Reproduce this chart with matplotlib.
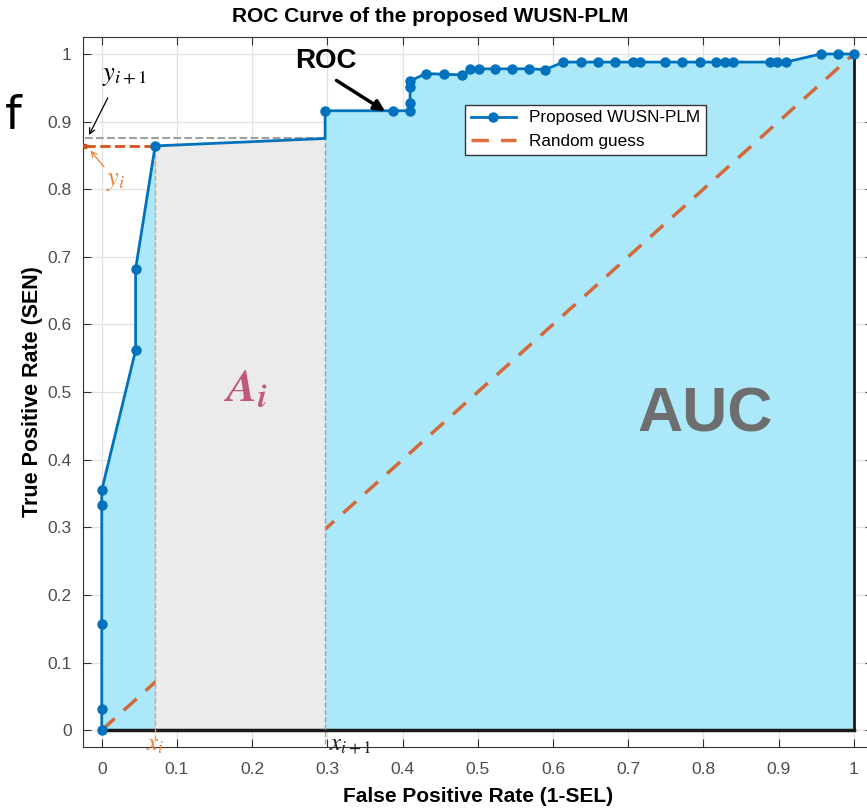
import matplotlib.pyplot as plt
import numpy as np

plt.rcParams['font.family'] = ['Liberation Sans', 'DejaVu Sans']
plt.rcParams['mathtext.fontset'] = 'stix'

# ROC curve points
fpr = [0, 0, 0, 0, 0, 0.045, 0.045, 0.071, 0.297, 0.297, 0.387, 0.410,
       0.410, 0.410, 0.410, 0.431, 0.455, 0.479, 0.490, 0.501, 0.523, 0.546,
       0.568, 0.590, 0.614, 0.637, 0.660, 0.683, 0.706, 0.716, 0.749, 0.772,
       0.795, 0.817, 0.829, 0.840, 0.888, 0.898, 0.910, 0.956, 0.979, 1.0]
tpr = [0, 0.031, 0.157, 0.333, 0.355, 0.562, 0.682, 0.864, 0.875, 0.916,
       0.916, 0.916, 0.928, 0.951, 0.960, 0.971, 0.970, 0.969, 0.978, 0.978,
       0.978, 0.978, 0.978, 0.977, 0.988, 0.988, 0.988, 0.988, 0.988, 0.988,
       0.988, 0.988, 0.988, 0.988, 0.988, 0.988, 0.988, 0.988, 0.988, 1.0,
       1.0, 1.0]
guess = [0, 1]

# trapezoid A_i
x_i, x_i1 = 0.071, 0.297
y_i, y_i1 = 0.864, 0.875

blue = '#0072BD'
orange = '#D95319'
light_orange = '#E8843C'
cyan = '#ABE9FA'
grey_fill = '#EBEBEB'

fig = plt.figure(figsize=(8.67, 8.09), dpi=100)
ax = fig.add_axes([0.0957, 0.0766, 0.9107, 0.8776])
ax.set_xlim(-0.025, 1.025)
ax.set_ylim(-0.025, 1.025)
ax.set_axisbelow(True)
ax.grid(True, color='#E2E2E2', linewidth=0.9)

# AUC area and A_i area
ax.fill_between(fpr, tpr, 0, color=cyan, linewidth=0, zorder=1)
guess_line, = ax.plot(guess, guess, '--', color=orange, linewidth=2.5, dashes=(5, 3.5),
                      alpha=0.85, zorder=2, label='Random guess')
ax.fill_between([x_i, x_i1], [y_i, y_i1], 0, color=grey_fill, linewidth=0, zorder=3)

ax.plot([0, 1], [0, 0], color='#1A1A1A', linewidth=2.5, zorder=4)
ax.plot([1, 1], [0, 1], color='#1A1A1A', linewidth=2, zorder=4)

# guide lines
ax.plot([-0.022, x_i1], [y_i1, y_i1], '--', color='#A0A0A0', linewidth=1.5, zorder=4)
ax.plot([-0.022, x_i], [y_i, y_i], '--', color=orange, linewidth=2, zorder=4)
ax.plot([-0.022], [y_i], 'o', color=orange, markersize=3, zorder=5)
ax.plot([x_i, x_i], [-0.015, y_i], '--', color='#D9A07A', linewidth=1, zorder=4)
ax.plot([x_i1, x_i1], [-0.02, y_i1], '--', color='#A0A0A0', linewidth=1, zorder=4)

marks = [k for k in range(len(fpr)) if k != 8]
line, = ax.plot(fpr, tpr, '-o', color=blue, linewidth=2, markersize=6.5,
                markevery=marks, zorder=6, label='Proposed WUSN-PLM')

ax.legend(handles=[line, guess_line], loc='upper left',
          bbox_to_anchor=(0.484, 0.905), fontsize=12.3, fancybox=False,
          edgecolor='#333333', framealpha=1, borderpad=0.35, handlelength=2.6,
          borderaxespad=0)

# annotations
ax.text(0.803, 0.466, 'AUC', fontsize=45, fontweight='bold', color='#6E6E6E',
        ha='center', va='center', zorder=7)
ax.text(0.191, 0.505, r'$\mathbfit{A}_{\mathbfit{i}}$', fontsize=33, color='#C2587A',
        ha='center', va='center', zorder=7)
ax.text(0.298, 0.99, 'ROC', fontsize=20, fontweight='bold', color='black',
        ha='center', va='center', zorder=7)
ax.annotate('', xy=(0.38, 0.913), xytext=(0.309, 0.963),
            arrowprops=dict(arrowstyle='-|>', color='black', lw=2.5,
                            mutation_scale=16), zorder=7)
ax.text(0.03, 0.968, r'$y_{i+1}$', fontsize=19, ha='center', va='center')
ax.annotate('', xy=(-0.017, 0.880), xytext=(0.008, 0.935),
            arrowprops=dict(arrowstyle='->', color='black', lw=0.9,
                            shrinkA=0, shrinkB=0), annotation_clip=False)
ax.text(0.018, 0.812, r'$y_i$', fontsize=19, color=light_orange, ha='center', va='center')
ax.annotate('', xy=(-0.015, 0.857), xytext=(0.003, 0.833),
            arrowprops=dict(arrowstyle='->', color=light_orange, lw=0.9,
                            shrinkA=0, shrinkB=0), annotation_clip=False)
ax.text(x_i, -0.003, r'$x_i$', fontsize=18, color=light_orange, ha='center', va='top',
        zorder=7)
ax.text(x_i1 + 0.005, -0.003, r'$x_{i+1}$', fontsize=18, color='#222222',
        ha='left', va='top', zorder=7)

fig.text(0.006, 0.84, 'f', fontsize=34, color='black', family='DejaVu Sans')

ax.set_xticks(np.arange(0, 1.01, 0.1))
ax.set_yticks(np.arange(0, 1.01, 0.1))
ax.set_xticklabels(['0'] + ['%.1f' % v for v in np.arange(0.1, 0.95, 0.1)] + ['1'])
ax.set_yticklabels(['0'] + ['%.1f' % v for v in np.arange(0.1, 0.95, 0.1)] + ['1'])
ax.tick_params(direction='in', top=True, right=True, length=6, labelsize=12.5,
               labelcolor='#4D4D4D', color='#333333')
ax.tick_params(axis='x', pad=11)
ax.tick_params(axis='y', pad=8)
for s in ax.spines.values():
    s.set_color('#333333')

ax.set_title('ROC Curve of the proposed WUSN-PLM', fontsize=15, fontweight='bold',
             pad=11, x=0.44)
ax.set_xlabel('False Positive Rate (1-SEL)', fontsize=15, fontweight='bold', labelpad=7)
ax.set_ylabel('True Positive Rate (SEN)', fontsize=15.5, fontweight='bold', labelpad=3)

fig.savefig('out.png', dpi=100)
